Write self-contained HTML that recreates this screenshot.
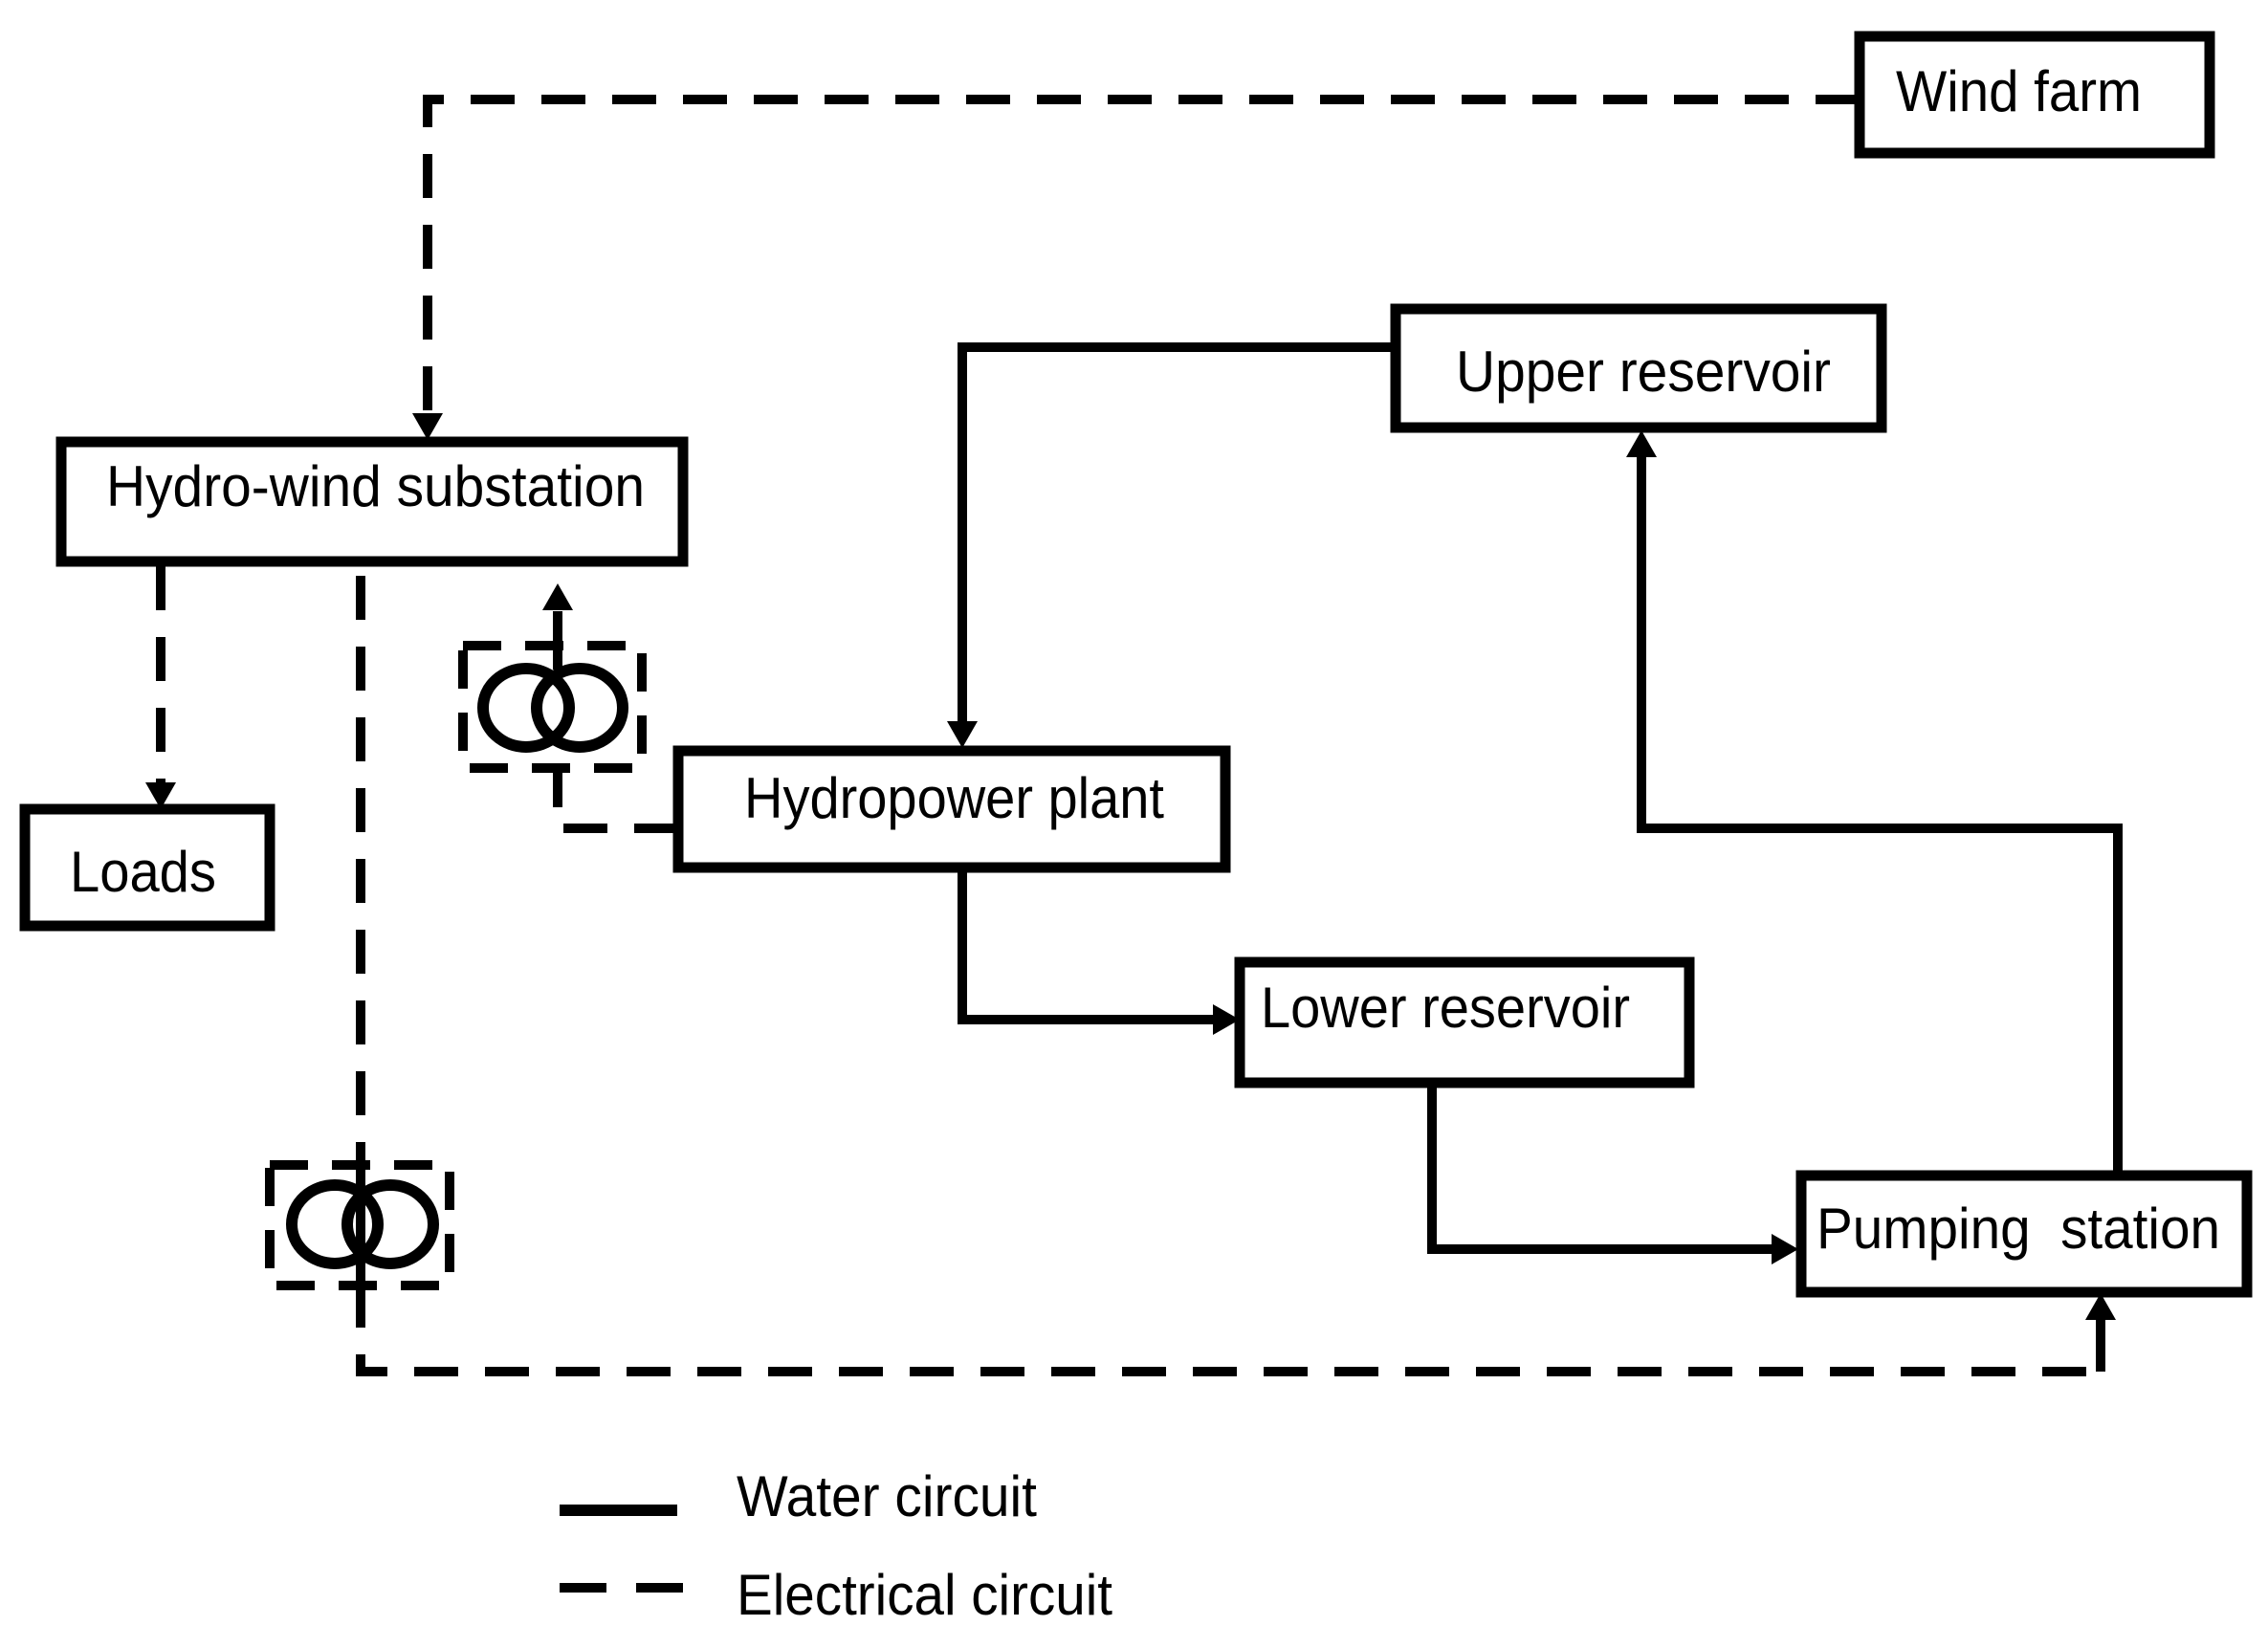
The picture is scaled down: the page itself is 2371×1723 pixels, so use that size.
<!DOCTYPE html>
<html><head><meta charset="utf-8"><style>
html,body{margin:0;padding:0;background:#fff;}
svg{display:block;}
text{font-family:"Liberation Sans",Arial,sans-serif;font-size:60px;fill:#000;}
</style></head><body>
<svg width="2371" height="1723" viewBox="0 0 2371 1723" xmlns="http://www.w3.org/2000/svg">
<g fill="none" stroke="#000" stroke-width="11">
<rect x="1944" y="38" width="366" height="122"/>
<rect x="1459" y="323" width="508" height="124"/>
<rect x="64" y="462" width="650" height="125"/>
<rect x="26" y="846" width="256" height="122"/>
<rect x="709" y="785" width="572" height="122"/>
<rect x="1296" y="1006" width="470" height="126"/>
<rect x="1883" y="1229" width="466" height="122"/>
</g>
<!-- water circuit -->
<g fill="none" stroke="#000" stroke-width="10" stroke-linejoin="miter">
<polyline points="1459,363 1006,363 1006,756"/>
<polyline points="1006,907 1006,1066 1268,1066"/>
<polyline points="1497,1132 1497,1306 1854,1306"/>
<polyline points="2214,1229 2214,866 1716,866 1716,476"/>
<line x1="585" y1="1579" x2="708" y2="1579" stroke-width="12"/>
</g>
<g fill="#000">
<polygon points="990,754 1022,754 1006,782"/>
<polygon points="1268,1050 1268,1082 1296,1066"/>
<polygon points="1852,1290 1852,1322 1880,1306"/>
<polygon points="1700,478 1732,478 1716,450"/>
</g>
<!-- electrical circuit -->
<g fill="none" stroke="#000" stroke-width="10" stroke-dasharray="46 28">
<polyline points="1944,104 447,104 447,434"/>
<line x1="168" y1="592" x2="168" y2="820"/>
<polyline points="377,602 377,1434 2196,1434"/>
<polyline points="709,866 583,866 583,808"/>
<line x1="583" y1="685" x2="583" y2="634"/>
<line x1="585" y1="1660" x2="714" y2="1660" stroke-dasharray="49 31"/>
</g>
<g fill="none" stroke="#000" stroke-width="10">
<line x1="2196" y1="1434" x2="2196" y2="1378"/>
<line x1="377" y1="1216" x2="377" y2="1344"/>
<line x1="583" y1="660" x2="583" y2="700"/>
</g>
<g fill="#000">
<polygon points="431,432 463,432 447,460"/>
<polygon points="152,818 184,818 168,846"/>
<polygon points="567,638 599,638 583,610"/>
<polygon points="2180,1380 2212,1380 2196,1352"/>
</g>
<!-- transformers -->
<g fill="none" stroke="#000" stroke-width="10" stroke-dasharray="40 25">
<rect x="484" y="675" width="187" height="128"/>
<rect x="282" y="1218" width="188" height="126"/>
</g>
<g fill="none" stroke="#000" stroke-width="12">
<ellipse cx="550" cy="740" rx="45" ry="41"/>
<ellipse cx="606" cy="740" rx="45" ry="41"/>
<ellipse cx="350" cy="1280" rx="45" ry="41"/>
<ellipse cx="408" cy="1280" rx="45" ry="41"/>
</g>
<!-- labels -->
<text x="1982" y="116" textLength="257" lengthAdjust="spacingAndGlyphs">Wind farm</text>
<text x="1522" y="409" textLength="392" lengthAdjust="spacingAndGlyphs">Upper reservoir</text>
<text x="111" y="529" textLength="563" lengthAdjust="spacingAndGlyphs">Hydro-wind substation</text>
<text x="778" y="855" textLength="439" lengthAdjust="spacingAndGlyphs">Hydropower plant</text>
<text x="73" y="932" textLength="153" lengthAdjust="spacingAndGlyphs">Loads</text>
<text x="1318" y="1074" textLength="386" lengthAdjust="spacingAndGlyphs">Lower reservoir</text>
<text x="1899" y="1305" textLength="422" lengthAdjust="spacingAndGlyphs" xml:space="preserve">Pumping  station</text>
<text x="770" y="1585" textLength="314" lengthAdjust="spacingAndGlyphs">Water circuit</text>
<text x="770" y="1688" textLength="393" lengthAdjust="spacingAndGlyphs">Electrical circuit</text>
</svg>
</body></html>
